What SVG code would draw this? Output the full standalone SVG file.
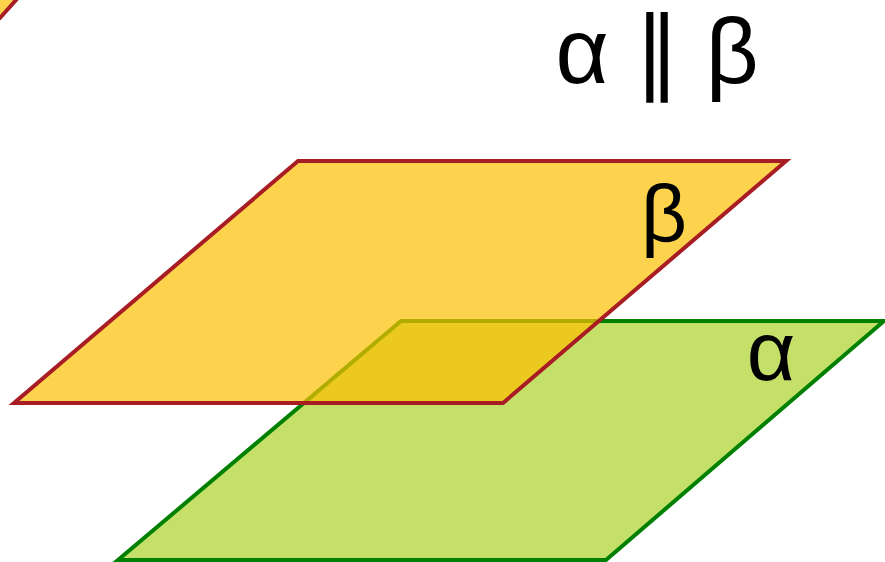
<svg xmlns="http://www.w3.org/2000/svg" width="885" height="562" viewBox="0 0 885 562">
<style>
.lbl{font-family:"Liberation Sans",Arial,sans-serif;fill:#000;}
.alpha{fill:#c4e069;stroke:#008000;stroke-width:4;stroke-linejoin:miter}
.beta{fill:#fcbf00;fill-opacity:0.7;stroke:#a81c24;stroke-width:4;stroke-linejoin:miter}
</style>
<rect width="885" height="562" fill="#fff"/>
<g id="corner">
<path d="M-10,0 L16,0 L0,18 Z" fill="#fcbf00" fill-opacity="0.7"/>
<path d="M17,-1 L-1,19" stroke="#a81c24" stroke-width="4" fill="none"/>
</g>
<g id="plane-alpha">
<polygon class="alpha" points="401,321 884,321 606,560 118,560"/>
<text class="lbl" x="771" y="380" font-size="84" text-anchor="middle">α</text>
</g>
<g id="plane-beta">
<polygon class="beta" points="298,161 786,161 503,403 14,403"/>
<text class="lbl" x="664" y="241" font-size="80" text-anchor="middle">β</text>
</g>
<g id="title">
<text class="lbl" x="657" y="83" font-size="92" text-anchor="middle">α ∥ β</text>
</g>
</svg>
